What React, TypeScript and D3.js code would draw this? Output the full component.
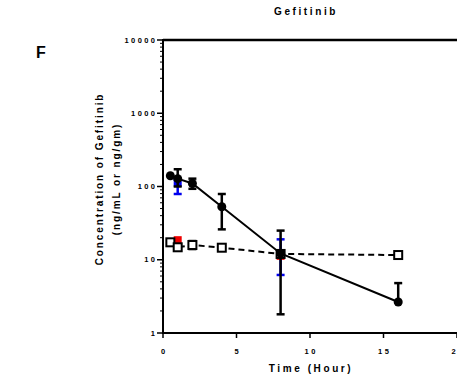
import React from "react";
import * as d3 from "d3";

// Sampling times (hours)
const times = [0.5, 1, 2, 4, 8, 16];

// Plasma series (filled circles, solid line)
const plasmaMean = [140, 128, 110, 53, 12.2, 2.65];
const plasmaHigh: (number | null)[] = [null, 172, 128, 79, 25, 4.8];
const plasmaLow: (number | null)[] = [null, 100, 93, 26, 1.8, null];

// Tissue series (open squares, dashed line)
const tissueMean = [17.3, 14.8, 15.9, 14.6, 12.0, 11.6];
const tissueHigh: (number | null)[] = [null, 16.2, 18.0, null, null, null];
const tissueLow: (number | null)[] = [null, 13.6, 14.0, null, null, null];

// Additional groups sampled at 1 h and 8 h only
const blueTimes = [1, 8];
const blueMean = [112, 12];
const blueHigh = [126, 19];
const blueLow = [79, 6.2];

const redTimes = [1, 8];
const redMean = [18.5, 11.3];

const yTicks = [1, 10, 100, 1000, 10000];
const xTicks = [0, 5, 10, 15, 20];

const FONT = "'Liberation Sans', Arial, sans-serif";
const TICK_LS = 2.4;

export default function App() {
  const W = 457;
  const H = 379;
  const x = d3.scaleLinear().domain([0, 20]).range([163, 457]);
  const y = d3.scaleLog().domain([1, 10000]).range([333, 40]);

  const minorTicks: number[] = [];
  for (let d = 1; d < 10000; d *= 10) {
    for (let k = 2; k <= 9; k++) minorTicks.push(d * k);
  }

  const line = d3
    .line<[number, number]>()
    .x((d) => x(d[0]))
    .y((d) => y(d[1]));

  const plasmaPts = times.map((t, i) => [t, plasmaMean[i]] as [number, number]);
  const tissuePts = times.map((t, i) => [t, tissueMean[i]] as [number, number]);

  const errBar = (
    t: number,
    m: number,
    hi: number | null,
    lo: number | null,
    color: string,
    key: string
  ) => {
    const cx = x(t);
    const cap = 4;
    const els: React.ReactNode[] = [];
    if (hi != null) {
      els.push(
        <line key={key + "h"} x1={cx} x2={cx} y1={y(m)} y2={y(hi)} stroke={color} strokeWidth={2.5} />,
        <line key={key + "hc"} x1={cx - cap} x2={cx + cap} y1={y(hi)} y2={y(hi)} stroke={color} strokeWidth={2.5} />
      );
    }
    if (lo != null) {
      els.push(
        <line key={key + "l"} x1={cx} x2={cx} y1={y(m)} y2={y(lo)} stroke={color} strokeWidth={2.5} />,
        <line key={key + "lc"} x1={cx - cap} x2={cx + cap} y1={y(lo)} y2={y(lo)} stroke={color} strokeWidth={2.5} />
      );
    }
    return els;
  };

  return (
    <svg width={W} height={H} style={{ position: "absolute", left: 0, top: 0 }}>
      <rect width={W} height={H} fill="#fff" />

      {/* Panel letter and title */}
      <text x={36} y={58} fontFamily={FONT} fontWeight="bold" fontSize={16}>
        F
      </text>
      <text x={306} y={15} textAnchor="middle" fontFamily={FONT} fontWeight="bold" fontSize={10} letterSpacing={2.6}>
        Gefitinib
      </text>

      {/* Y axis */}
      <line x1={163} x2={163} y1={39} y2={334} stroke="#000" strokeWidth={2} />
      {yTicks.map((v) => (
        <g key={"yt" + v}>
          <line x1={157} x2={163} y1={y(v)} y2={y(v)} stroke="#000" strokeWidth={1.5} />
          <text x={155 + TICK_LS} y={y(v) + 2.7} textAnchor="end" fontFamily={FONT} fontWeight="bold" fontSize={7.5} letterSpacing={TICK_LS}>
            {v}
          </text>
        </g>
      ))}
      {minorTicks.map((v) => (
        <line key={"ym" + v} x1={160} x2={163} y1={y(v)} y2={y(v)} stroke="#000" strokeWidth={1} />
      ))}
      {/* Top border */}
      <line x1={163} x2={457} y1={y(10000)} y2={y(10000)} stroke="#000" strokeWidth={2.5} />

      {/* X axis */}
      <line x1={162} x2={457} y1={333} y2={333} stroke="#000" strokeWidth={2} />
      {xTicks.map((v) => (
        <g key={"xt" + v}>
          <line x1={x(v)} x2={x(v)} y1={333} y2={338} stroke="#000" strokeWidth={1.5} />
          <text x={x(v) + TICK_LS / 2} y={354} textAnchor="middle" fontFamily={FONT} fontWeight="bold" fontSize={7.5} letterSpacing={TICK_LS}>
            {v}
          </text>
        </g>
      ))}

      {/* Axis titles */}
      <text x={311} y={372} textAnchor="middle" fontFamily={FONT} fontWeight="bold" fontSize={10} letterSpacing={2.6}>
        Time (Hour)
      </text>
      <g transform="translate(103,179) rotate(-90)">
        <text x={0} y={0} textAnchor="middle" fontFamily={FONT} fontWeight="bold" fontSize={10} letterSpacing={1.9}>
          Concentration of Gefitinib
        </text>
        <text x={0} y={17} textAnchor="middle" fontFamily={FONT} fontWeight="bold" fontSize={10} letterSpacing={1.9}>
          (ng/mL or ng/gm)
        </text>
      </g>

      {/* Blue group */}
      {blueTimes.map((t, i) => (
        <g key={"b" + i}>
          {errBar(t, blueMean[i], blueHigh[i], blueLow[i], "#0000ee", "be" + i)}
          <rect x={x(t) - 4} y={y(blueMean[i]) - 4} width={8} height={8} fill="#0000ee" />
        </g>
      ))}

      {/* Red group */}
      {redTimes.map((t, i) => (
        <rect key={"r" + i} x={x(t) - 4} y={y(redMean[i]) - 4} width={8} height={8} fill="#ee0000" />
      ))}

      {/* Tissue series */}
      <path d={line(tissuePts) || ""} fill="none" stroke="#000" strokeWidth={2} strokeDasharray="6,4" />
      {times.map((t, i) => (
        <g key={"t" + i}>
          {errBar(t, tissueMean[i], tissueHigh[i], tissueLow[i], "#000", "te" + i)}
          <rect
            x={x(t) - 4}
            y={y(tissueMean[i]) - 4}
            width={8}
            height={8}
            fill="#fff"
            stroke="#000"
            strokeWidth={2}
          />
        </g>
      ))}

      {/* Plasma series */}
      <path d={line(plasmaPts) || ""} fill="none" stroke="#000" strokeWidth={2} />
      {times.map((t, i) => (
        <g key={"p" + i}>
          {errBar(t, plasmaMean[i], plasmaHigh[i], plasmaLow[i], "#000", "pe" + i)}
          <circle cx={x(t)} cy={y(plasmaMean[i])} r={4.5} fill="#000" />
        </g>
      ))}
    </svg>
  );
}
